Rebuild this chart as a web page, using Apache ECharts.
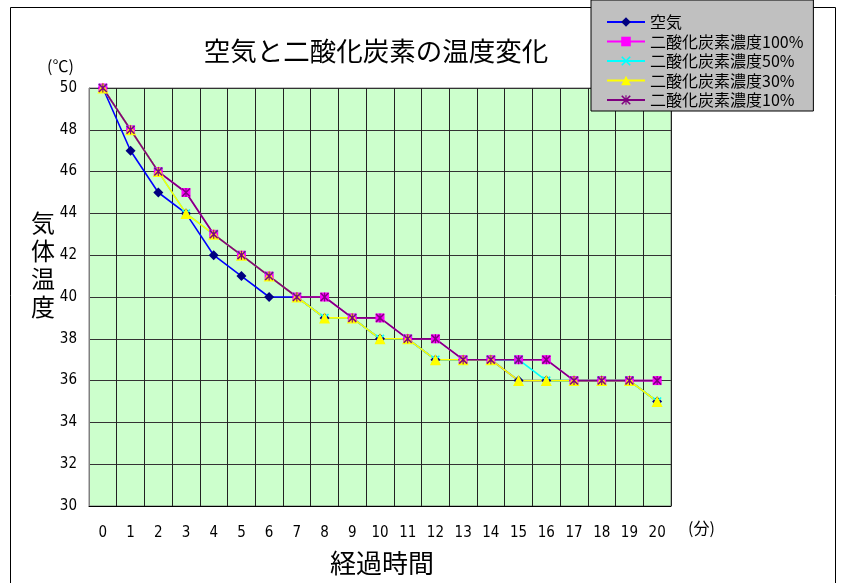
<!DOCTYPE html>
<html>
<head>
<meta charset="utf-8">
<script src="https://cdn.jsdelivr.net/npm/echarts@6/dist/echarts.min.js"></script>
<style>
  html, body { margin: 0; padding: 0; background: #fff; }
  #chart { width: 842px; height: 583px; }
</style>
</head>
<body>
<div id="chart"></div>
<script>
// 経過時間（分）
const minutes = ['0','1','2','3','4','5','6','7','8','9','10','11','12','13','14','15','16','17','18','19','20'];

// 気体温度（℃）
const air      = [50, 47, 45, 44, 42, 41, 40, 40, 39, 39, 38, 38, 37, 37, 37, 36, 36, 36, 36, 36, 35];
const co2_100  = [50, 48, 46, 45, 43, 42, 41, 40, 40, 39, 39, 38, 38, 37, 37, 37, 37, 36, 36, 36, 36];
const co2_50   = [50, 48, 46, 44, 43, 42, 41, 40, 39, 39, 38, 38, 37, 37, 37, 37, 36, 36, 36, 36, 35];
const co2_30   = [50, 48, 46, 44, 43, 42, 41, 40, 39, 39, 38, 38, 37, 37, 37, 36, 36, 36, 36, 36, 35];
const co2_10   = [50, 48, 46, 45, 43, 42, 41, 40, 40, 39, 39, 38, 38, 37, 37, 37, 37, 36, 36, 36, 36];

const seriesNames = ['空気', '二酸化炭素濃度100%', '二酸化炭素濃度50%', '二酸化炭素濃度30%', '二酸化炭素濃度10%'];

// thin "x" and asterisk marker shapes
const crossPath = 'path://M0,1.2L1.2,0L10,8.8L8.8,10Z M8.8,0L10,1.2L1.2,10L0,8.8Z';
const starPath  = 'path://M0,1.2L1.2,0L10,8.8L8.8,10Z M8.8,0L10,1.2L1.2,10L0,8.8Z M4.4,0L5.6,0L5.6,10L4.4,10Z';

const jp = '"Noto Sans CJK JP", "Noto Sans", sans-serif';
const narrow = '"Liberation Sans Narrow", "DejaVu Sans Condensed", "Liberation Sans", sans-serif';

function lineSeries(name, data, lineColor, markColor, symbol, size) {
  return {
    name: name,
    type: 'line',
    data: data,
    symbol: symbol,
    symbolSize: size,
    showAllSymbol: true,
    lineStyle: { color: lineColor, width: 1.6 },
    itemStyle: { color: markColor, borderWidth: 0 },
    emphasis: { disabled: true },
    animation: false
  };
}

const chart = echarts.init(document.getElementById('chart'), null, { renderer: 'canvas' });

chart.setOption({
  backgroundColor: '#ffffff',
  animation: false,
  title: {
    text: '空気と二酸化炭素の温度変化',
    left: 371,
    top: 33,
    textAlign: 'center',
    textStyle: { fontFamily: jp, fontSize: 26.5, fontWeight: 'normal', color: '#000' }
  },
  legend: {
    orient: 'vertical',
    left: 591,
    top: 0,
    width: 227,
    padding: [14, 10, 3, 15],
    itemGap: 3.5,
    itemWidth: 38,
    itemHeight: 12,
    backgroundColor: '#C0C0C0',
    borderColor: '#000',
    borderWidth: 1,
    borderRadius: 0,
    data: seriesNames,
    textStyle: { fontFamily: jp, fontSize: 16, color: '#000', padding: [0, 0, 0, 0] }
  },
  grid: {
    left: 89,
    right: 171,
    top: 88,
    bottom: 77,
    show: true,
    backgroundColor: '#CCFFCC',
    borderColor: '#808080',
    borderWidth: 1
  },
  xAxis: {
    type: 'category',
    data: minutes,
    boundaryGap: true,
    axisLine: { lineStyle: { color: '#000', width: 1 } },
    axisTick: { show: false },
    axisLabel: { margin: 20, fontFamily: narrow, fontSize: 15, color: '#000', interval: 0 },
    splitLine: { show: true, interval: 0, lineStyle: { color: '#222', width: 1 } }
  },
  yAxis: {
    type: 'value',
    min: 30,
    max: 50,
    interval: 2,
    axisLine: { show: true, lineStyle: { color: '#808080', width: 1 } },
    axisTick: { show: false },
    axisLabel: { margin: 12, fontFamily: narrow, fontSize: 15, color: '#000' },
    splitLine: { show: true, lineStyle: { color: '#333', width: 1 } }
  },
  graphic: [
    {
      type: 'rect',
      silent: true,
      z: -1,
      shape: { x: 10.5, y: 7.5, width: 825, height: 620 },
      style: { fill: null, stroke: '#000', lineWidth: 1 }
    },
    {
      type: 'text',
      left: 47, top: 58,
      style: { text: '(℃)', fontFamily: jp, fontSize: 16, fill: '#000' }
    },
    {
      type: 'text',
      left: 688, top: 520,
      style: { text: '(分)', fontFamily: jp, fontSize: 16, fill: '#000' }
    },
    {
      type: 'text',
      left: 31, top: 209,
      style: { text: '気\n体\n温\n度', fontFamily: jp, fontSize: 24, lineHeight: 28, fill: '#000' }
    },
    {
      type: 'text',
      left: 330, top: 550,
      style: { text: '経過時間', fontFamily: jp, fontSize: 26, fill: '#000' }
    }
  ],
  series: [
    lineSeries(seriesNames[0], air,     '#0000FF', '#000080', 'diamond',  10),
    lineSeries(seriesNames[1], co2_100, '#FF00FF', '#FF00FF', 'rect',      9),
    lineSeries(seriesNames[2], co2_50,  '#00FFFF', '#00FFFF', crossPath,   9),
    lineSeries(seriesNames[3], co2_30,  '#FFFF00', '#FFFF00', 'triangle', 11),
    lineSeries(seriesNames[4], co2_10,  '#800080', '#800080', starPath,    9)
  ]
});
</script>
</body>
</html>
